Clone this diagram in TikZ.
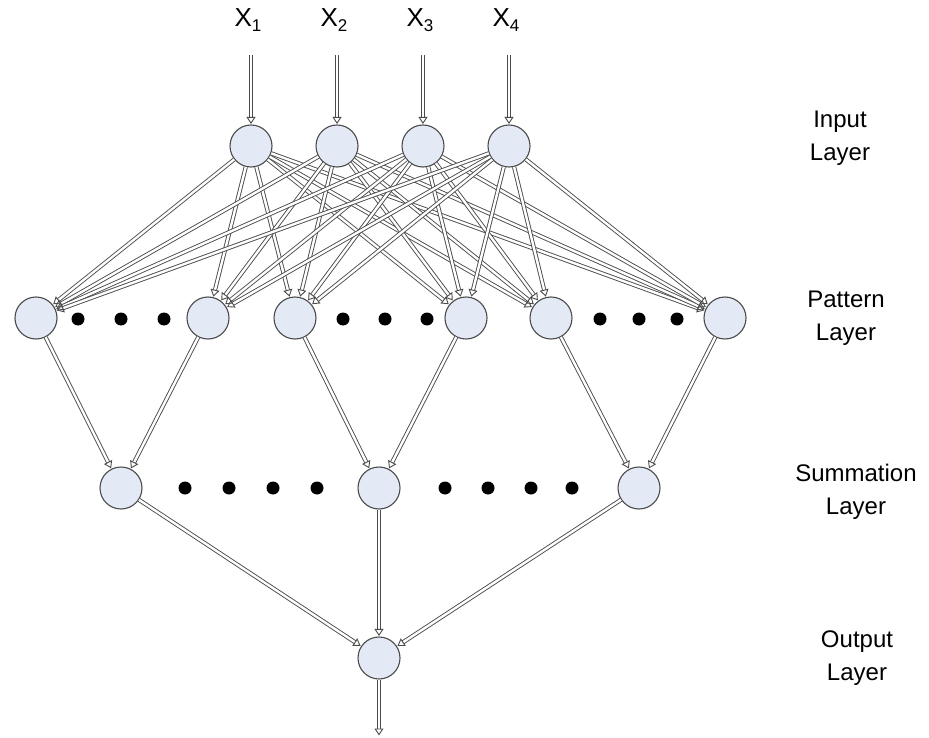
\documentclass[tikz,border=0pt]{standalone}
\usepackage{fontspec}
\setmainfont{Liberation Sans}
\usetikzlibrary{arrows.meta}
\definecolor{nodefill}{RGB}{228,234,245}
\definecolor{edgecol}{RGB}{75,75,75}
\newcommand{\xin}[1]{X\raisebox{-0.35ex}{\fontsize{17}{17}\selectfont #1}}
\begin{document}
\begin{tikzpicture}[x=1pt,y=-1pt,
  neuron/.style={circle, draw=edgecol, fill=nodefill, line width=1.1pt,
                 minimum size=42pt, inner sep=0pt},
  link/.style={draw=edgecol, double=white, double distance=2.4pt, line width=0.9pt,
               -{Triangle[open, length=7pt, width=9pt]}, shorten >=0.5pt},
  dot/.style={circle, fill=black, minimum size=13pt, inner sep=0pt},
  lbl/.style={font=\fontsize{24}{33}\selectfont, align=center},
  xlbl/.style={font=\fontsize{26}{30}\selectfont}]
\useasboundingbox (0,0) rectangle (929,738);

% input layer
\foreach \n/\x in {1/251,2/337,3/423,4/509} {
  \node[neuron] (i\n) at (\x,146) {};
  \coordinate (t\n) at (\x,55);
  \node[xlbl] (x\n) at (\x-3,20) {\xin{\n}};
  \draw[link] (t\n) -- (i\n);
}

% pattern layer
\foreach \n/\x in {1/36,2/208,3/295,4/466,5/551,6/725}
  \node[neuron] (p\n) at (\x,318) {};
\foreach \x [count=\k] in {78,121,164,343,385,427,600,639,677}
  \node[dot] (pd\k) at (\x,319) {};

% summation layer
\foreach \n/\x in {1/121,2/379,3/639}
  \node[neuron] (s\n) at (\x,488) {};
\foreach \x [count=\k] in {185,229,273,317,445,488,531,572}
  \node[dot] (sd\k) at (\x,488) {};

% output layer
\node[neuron] (o) at (379,658) {};
\coordinate (out) at (379,736);

% connections
\foreach \i in {1,...,4}
  \foreach \p in {1,...,6}
    \draw[link] (i\i) -- (p\p);
\foreach \p/\s in {1/1,2/1,3/2,4/2,5/3,6/3}
  \draw[link] (p\p) -- (s\s);
\foreach \s in {1,2,3}
  \draw[link] (s\s) -- (o);
\draw[link] (o) -- (out);

% layer names
\node[lbl] (li) at (840,138) {Input\\Layer};
\node[lbl] (lp) at (846,318) {Pattern\\Layer};
\node[lbl] (ls) at (856,492) {Summation\\Layer};
\node[lbl] (lo) at (857,658) {Output\\Layer};
\end{tikzpicture}
\end{document}
